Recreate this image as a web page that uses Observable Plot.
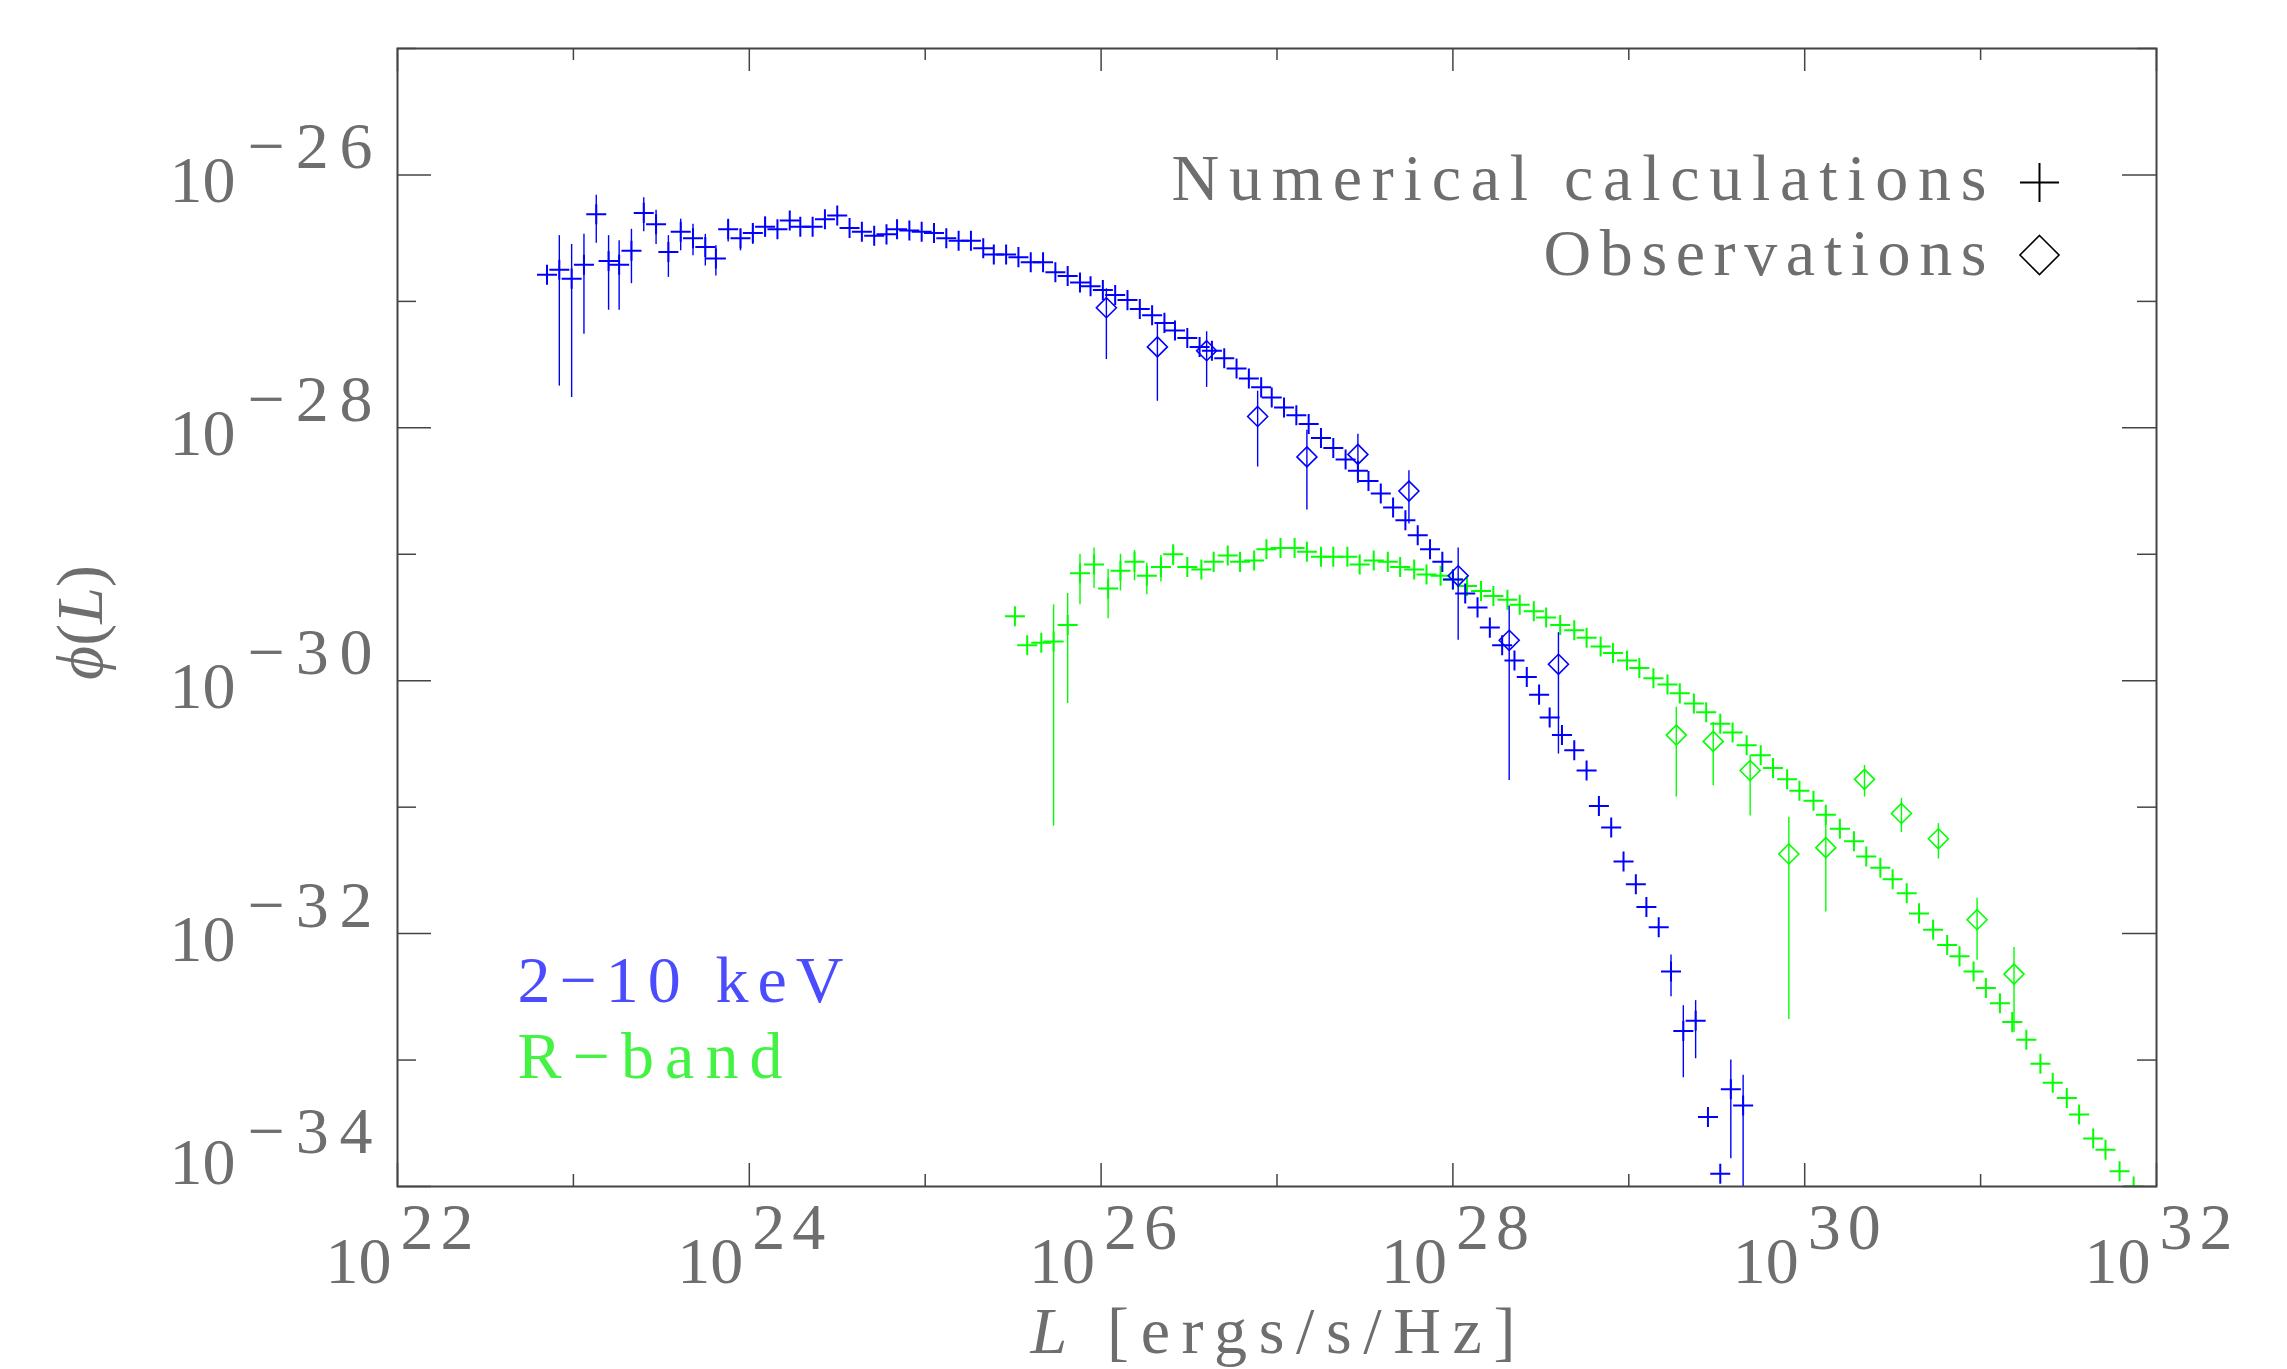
<!DOCTYPE html>
<html><head><meta charset="utf-8">
<script src="https://cdn.jsdelivr.net/npm/d3@7"></script>
<script src="https://cdn.jsdelivr.net/npm/@observablehq/plot@0.6"></script>
<style>html,body{margin:0;padding:0;background:#fff;} svg{display:block;}</style>
</head><body><div id="chart"></div>
<script>
// ---- tick exponents ----
const xMajorExp = [22, 24, 26, 28, 30, 32];
const xMinorExp = [23, 25, 27, 29, 31];
const yMajorExp = [-26, -28, -30, -32, -34];
const yMinorExp = [-25, -27, -29, -31, -33];

// ---- 2-10 keV numerical calculations (log10 L, log10 phi) ----
const blueLogL = [22.85,22.92,22.99,23.06,23.13,23.20,23.26,23.33,23.40,23.47,23.54,23.61,23.68,23.75,23.81,23.88,23.95,24.02,24.09,24.16,
  24.23,24.29,24.36,24.43,24.50,24.57,24.64,24.71,24.78,24.84,24.91,24.98,25.05,25.12,25.19,25.26,25.33,25.39,25.46,25.53,
  25.60,25.67,25.74,25.81,25.88,25.94,26.01,26.08,26.15,26.22,26.29,26.36,26.42,26.49,26.56,26.63,26.70,26.77,26.84,26.91,
  26.97,27.04,27.11,27.18,27.25,27.32,27.39,27.46,27.52,27.59,27.66,27.73,27.80,27.87,27.94,28.00,28.07,28.14,28.21,28.28,
  28.35,28.42,28.49,28.55,28.62,28.69,28.76,28.83,28.90,28.97,29.04,29.10,29.17,29.24,29.31,29.38,29.45,29.52,29.58,29.65];
const blueLogPhi = [-26.79,-26.75,-26.82,-26.71,-26.31,-26.68,-26.71,-26.60,-26.30,-26.39,-26.61,-26.45,-26.50,-26.57,-26.66,-26.43,-26.50,-26.46,-26.41,-26.43,
  -26.36,-26.41,-26.41,-26.35,-26.32,-26.42,-26.45,-26.48,-26.47,-26.43,-26.44,-26.45,-26.46,-26.50,-26.52,-26.52,-26.58,-26.63,-26.63,-26.65,
  -26.69,-26.69,-26.77,-26.80,-26.85,-26.88,-26.91,-26.95,-26.99,-27.06,-27.11,-27.17,-27.23,-27.29,-27.36,-27.39,-27.45,-27.53,-27.61,-27.68,
  -27.76,-27.84,-27.90,-27.97,-28.08,-28.16,-28.25,-28.34,-28.42,-28.52,-28.63,-28.73,-28.85,-28.96,-29.06,-29.20,-29.31,-29.42,-29.58,-29.72,
  -29.84,-29.97,-30.11,-30.29,-30.43,-30.55,-30.71,-30.99,-31.16,-31.43,-31.61,-31.79,-31.95,-32.30,-32.77,-32.69,-33.45,-33.90,-33.23,-33.36];
// error bars (1-based point index, lower and upper log10 phi)
const blueBarIdx = [2,3,4,5,6,7,8,9,10,11,12,13,14,15,16,17,18,19,94,95,96,99,100];
const blueBarLo = [-27.67,-27.76,-27.26,-26.54,-27.07,-27.07,-26.86,-26.45,-26.55,-26.81,-26.60,-26.64,-26.72,-26.80,-26.53,-26.60,-26.55,-26.49,-32.50,-33.14,-32.99,-33.78,-34.50];
const blueBarHi = [-26.48,-26.55,-26.47,-26.16,-26.48,-26.52,-26.43,-26.18,-26.28,-26.48,-26.35,-26.39,-26.47,-26.56,-26.35,-26.43,-26.39,-26.33,-32.17,-32.57,-32.53,-33.00,-33.12];

// ---- 2-10 keV observations ----
const blueObsLogL = [26.03,26.32,26.60,26.89,27.17,27.46,27.75,28.03,28.32,28.60];
const blueObsLogPhi = [-27.05,-27.36,-27.39,-27.91,-28.23,-28.21,-28.50,-29.17,-29.68,-29.87];
const blueObsLo = [-27.46,-27.79,-27.68,-28.31,-28.65,-28.44,-28.76,-29.68,-30.79,-30.58];
const blueObsHi = [-26.90,-27.18,-27.24,-27.71,-28.02,-28.05,-28.34,-28.95,-29.41,-29.62];

// ---- R-band numerical calculations ----
const greenLogL = [25.51,25.58,25.66,25.73,25.81,25.88,25.96,26.04,26.11,26.19,26.26,26.34,26.41,26.49,26.57,26.64,26.72,26.79,26.87,26.94,
  27.02,27.10,27.17,27.25,27.32,27.40,27.47,27.55,27.63,27.70,27.78,27.85,27.93,28.00,28.08,28.16,28.23,28.31,28.38,28.46,
  28.53,28.61,28.69,28.76,28.84,28.91,28.99,29.06,29.14,29.22,29.29,29.37,29.44,29.52,29.59,29.67,29.75,29.82,29.90,29.97,
  30.05,30.12,30.20,30.28,30.35,30.43,30.50,30.58,30.65,30.73,30.81,30.88,30.96,31.03,31.11,31.18,31.26,31.34,31.41,31.49,
  31.56,31.64,31.71,31.79,31.87];
const greenLogPhi = [-29.49,-29.72,-29.70,-29.69,-29.56,-29.15,-29.08,-29.27,-29.13,-29.06,-29.17,-29.10,-29.00,-29.10,-29.12,-29.06,-29.01,-29.06,-29.05,-28.96,
  -28.95,-28.95,-28.98,-29.02,-29.02,-29.02,-29.08,-29.05,-29.06,-29.10,-29.12,-29.16,-29.17,-29.20,-29.25,-29.29,-29.33,-29.36,-29.40,-29.45,
  -29.50,-29.56,-29.60,-29.66,-29.73,-29.78,-29.84,-29.90,-29.98,-30.03,-30.10,-30.18,-30.25,-30.34,-30.41,-30.51,-30.59,-30.69,-30.78,-30.87,
  -30.95,-31.06,-31.17,-31.27,-31.39,-31.48,-31.57,-31.68,-31.84,-31.97,-32.09,-32.18,-32.30,-32.43,-32.55,-32.70,-32.84,-33.03,-33.18,-33.30,
  -33.43,-33.62,-33.71,-33.88,-34.00];
const greenBarIdx = [4,5,6,7,8,9,10,11,12,13];
const greenBarLo = [-31.15,-30.18,-29.40,-29.27,-29.51,-29.29,-29.21,-29.32,-29.22,-29.09];
const greenBarHi = [-29.40,-29.31,-29.00,-28.95,-29.12,-29.00,-28.97,-29.07,-29.01,-28.93];

// ---- R-band observations ----
const greenObsLogL = [29.27,29.48,29.69,29.91,30.12,30.34,30.55,30.76,30.98,31.19];
const greenObsLogPhi = [-30.43,-30.48,-30.71,-31.37,-31.32,-30.78,-31.05,-31.25,-31.89,-32.32];
const greenObsLo = [-30.92,-30.83,-31.07,-32.68,-31.83,-30.92,-31.20,-31.41,-32.21,-32.78];
const greenObsHi = [-30.21,-30.33,-30.59,-31.08,-31.08,-30.67,-30.93,-31.13,-31.72,-32.11];

// ---- texts ----
const legendLabels = ["Numerical calculations", "Observations"];
const bandLabels = ["2−10 keV", "R−band"];
const xTitle = "L [ergs/s/Hz]";
const yTitle = "ϕ(L)";

// ---- tables built from the arrays ----
const pts = (lx, ly) => lx.map((l, i) => ({L: 10 ** l, phi: 10 ** ly[i]}));
const bars = (lx, idx, lo, hi) => idx.map((k, j) => ({L: 10 ** lx[k - 1], lo: 10 ** lo[j], hi: 10 ** hi[j]}));
const obsBars = (lx, lo, hi) => lx.map((l, i) => ({L: 10 ** l, lo: 10 ** lo[i], hi: 10 ** hi[i]}));

const blue = pts(blueLogL, blueLogPhi);
const blueBars = bars(blueLogL, blueBarIdx, blueBarLo, blueBarHi);
const blueObs = pts(blueObsLogL, blueObsLogPhi);
const blueObsBars = obsBars(blueObsLogL, blueObsLo, blueObsHi);
const green = pts(greenLogL, greenLogPhi);
const greenBars = bars(greenLogL, greenBarIdx, greenBarLo, greenBarHi);
const greenObs = pts(greenObsLogL, greenObsLogPhi);
const greenObsBars = obsBars(greenObsLogL, greenObsLo, greenObsHi);

// ---- styles ----
const W = 2287, H = 1369, mL = 397, mR = 131, mT = 48, mB = 183;
const fw = W - mL - mR, fh = H - mT - mB;
const FONT = "'Liberation Serif', 'DejaVu Serif', serif";
const FS = 66;
const TXT = "#6e6e6e";
const AX = "#444";
const BLUE = "#0000ff", GREEN = "#00ff00";
const e10 = d => 10 ** d;

const dataMarks = (rows, barRows, obs, obsBarRows, color) => [
  Plot.ruleX(barRows, {x: "L", y1: "lo", y2: "hi", stroke: color, strokeWidth: 1.4, clip: true}),
  Plot.ruleX(obsBarRows, {x: "L", y1: "lo", y2: "hi", stroke: color, strokeWidth: 1.4, clip: true}),
  Plot.dot(rows, {x: "L", y: "phi", symbol: "plus", r: 6.5, stroke: color, strokeWidth: 2, clip: true}),
  Plot.dot(obs, {x: "L", y: "phi", symbol: "diamond2", r: 9, stroke: color, fill: "none", strokeWidth: 1.6, clip: true})
];

const svg = Plot.plot({
  width: W, height: H,
  marginLeft: mL, marginRight: mR, marginTop: mT, marginBottom: mB,
  style: {background: "#fff", overflow: "visible"},
  x: {type: "log", domain: [1e22, 1e32], axis: null},
  y: {type: "log", domain: [1e-34, 1e-25], axis: null},
  marks: [
    // data
    ...dataMarks(green, greenBars, greenObs, greenObsBars, GREEN),
    ...dataMarks(blue, blueBars, blueObs, blueObsBars, BLUE),
    // frame & inward ticks
    Plot.frame({stroke: AX, strokeWidth: 2}),
    Plot.ruleX(xMajorExp, {x: e10, insetTop: fh - 23, stroke: AX, strokeWidth: 1.5}),
    Plot.ruleX(xMinorExp, {x: e10, insetTop: fh - 12, stroke: AX, strokeWidth: 1.5}),
    Plot.ruleX(xMajorExp, {x: e10, insetBottom: fh - 23, stroke: AX, strokeWidth: 1.5}),
    Plot.ruleX(xMinorExp, {x: e10, insetBottom: fh - 12, stroke: AX, strokeWidth: 1.5}),
    Plot.ruleY(yMajorExp, {y: e10, insetRight: fw - 34, stroke: AX, strokeWidth: 1.5}),
    Plot.ruleY(yMinorExp, {y: e10, insetRight: fw - 19, stroke: AX, strokeWidth: 1.5}),
    Plot.ruleY(yMajorExp, {y: e10, insetLeft: fw - 34, stroke: AX, strokeWidth: 1.5}),
    Plot.ruleY(yMinorExp, {y: e10, insetLeft: fw - 19, stroke: AX, strokeWidth: 1.5}),
    // x tick labels
    Plot.text(xMajorExp, {x: e10, text: () => "10", frameAnchor: "bottom", textAnchor: "end", lineAnchor: "bottom", dx: -6, dy: 96, fontSize: FS, fontFamily: FONT, fill: TXT}),
    Plot.text(xMajorExp, {x: e10, text: d => String(d), frameAnchor: "bottom", textAnchor: "start", lineAnchor: "bottom", dx: 3, dy: 62, fontSize: FS, fontFamily: FONT, fill: TXT}),
    // y tick labels
    Plot.text(yMajorExp.filter(d => d > -34), {y: e10, text: () => "10", frameAnchor: "left", textAnchor: "end", lineAnchor: "bottom", dx: -162, dy: 27, fontSize: FS, fontFamily: FONT, fill: TXT}),
    Plot.text(yMajorExp.filter(d => d > -34), {y: e10, text: d => "−" + Math.abs(d), frameAnchor: "left", textAnchor: "end", lineAnchor: "bottom", dx: -25, dy: -7, fontSize: FS, fontFamily: FONT, fill: TXT}),
    Plot.text(yMajorExp.filter(d => d === -34), {y: e10, text: () => "10", frameAnchor: "left", textAnchor: "end", lineAnchor: "bottom", dx: -162, dy: -3, fontSize: FS, fontFamily: FONT, fill: TXT}),
    Plot.text(yMajorExp.filter(d => d === -34), {y: e10, text: d => "−" + Math.abs(d), frameAnchor: "left", textAnchor: "end", lineAnchor: "bottom", dx: -25, dy: -34, fontSize: FS, fontFamily: FONT, fill: TXT}),
    // axis titles
    Plot.text([xTitle], {text: d => d, frameAnchor: "bottom", textAnchor: "middle", lineAnchor: "bottom", dx: -4, dy: 166, fontSize: FS, fontFamily: FONT, fill: TXT}),
    Plot.text([yTitle], {text: d => d, frameAnchor: "left", rotate: -90, textAnchor: "middle", lineAnchor: "bottom", dx: -296, dy: 5, fontSize: FS, fontFamily: FONT, fill: TXT}),
    // legend (top right)
    Plot.text([legendLabels[0]], {text: d => d, frameAnchor: "top-right", textAnchor: "end", lineAnchor: "bottom", dx: -170, dy: 151, fontSize: FS, fontFamily: FONT, fill: TXT}),
    Plot.text([legendLabels[1]], {text: d => d, frameAnchor: "top-right", textAnchor: "end", lineAnchor: "bottom", dx: -170, dy: 226, fontSize: FS, fontFamily: FONT, fill: TXT}),
    Plot.dot([legendLabels[0]], {frameAnchor: "top-right", dx: -117, dy: 134, symbol: "plus", r: 12.6, stroke: "#000", strokeWidth: 2}),
    Plot.dot([legendLabels[1]], {frameAnchor: "top-right", dx: -117, dy: 206.5, symbol: "diamond2", r: 17.6, stroke: "#000", fill: "none", strokeWidth: 1.6}),
    // band labels (bottom left)
    Plot.text([bandLabels[0]], {text: d => d, frameAnchor: "top-left", textAnchor: "start", lineAnchor: "bottom", dx: 120, dy: 953, fontSize: FS, fontFamily: FONT, fill: "#4c4cff"}),
    Plot.text([bandLabels[1]], {text: d => d, frameAnchor: "top-left", textAnchor: "start", lineAnchor: "bottom", dx: 120, dy: 1029, fontSize: FS, fontFamily: FONT, fill: "#44f244"})
  ]
});

// fit text widths to the reference's wide Hershey-like spacing, and set italics
const fit = {"Numerical calculations": 815, "Observations": 443, "L [ergs/s/Hz]": 485, "2−10 keV": 326, "R−band": 265};
d3.select(svg).selectAll("text").each(function () {
  const t = this.textContent;
  let len = fit[t];
  if (/^−\d\d$/.test(t)) len = 125;
  else if (/^\d\d$/.test(t) && t !== "10") len = 73;
  if (t === xTitle) {
    this.textContent = "";
    d3.select(this).append("tspan").attr("font-style", "italic").text("L");
    d3.select(this).append("tspan").text(" [ergs/s/Hz]");
  } else if (t === yTitle) {
    this.textContent = "";
    d3.select(this).append("tspan").attr("font-style", "italic").text("ϕ");
    d3.select(this).append("tspan").text("(");
    d3.select(this).append("tspan").attr("font-style", "italic").text("L");
    d3.select(this).append("tspan").text(")");
  }
  if (len) { this.setAttribute("textLength", len); this.setAttribute("lengthAdjust", "spacing"); }
});
document.getElementById("chart").appendChild(svg);
</script>
</body></html>
